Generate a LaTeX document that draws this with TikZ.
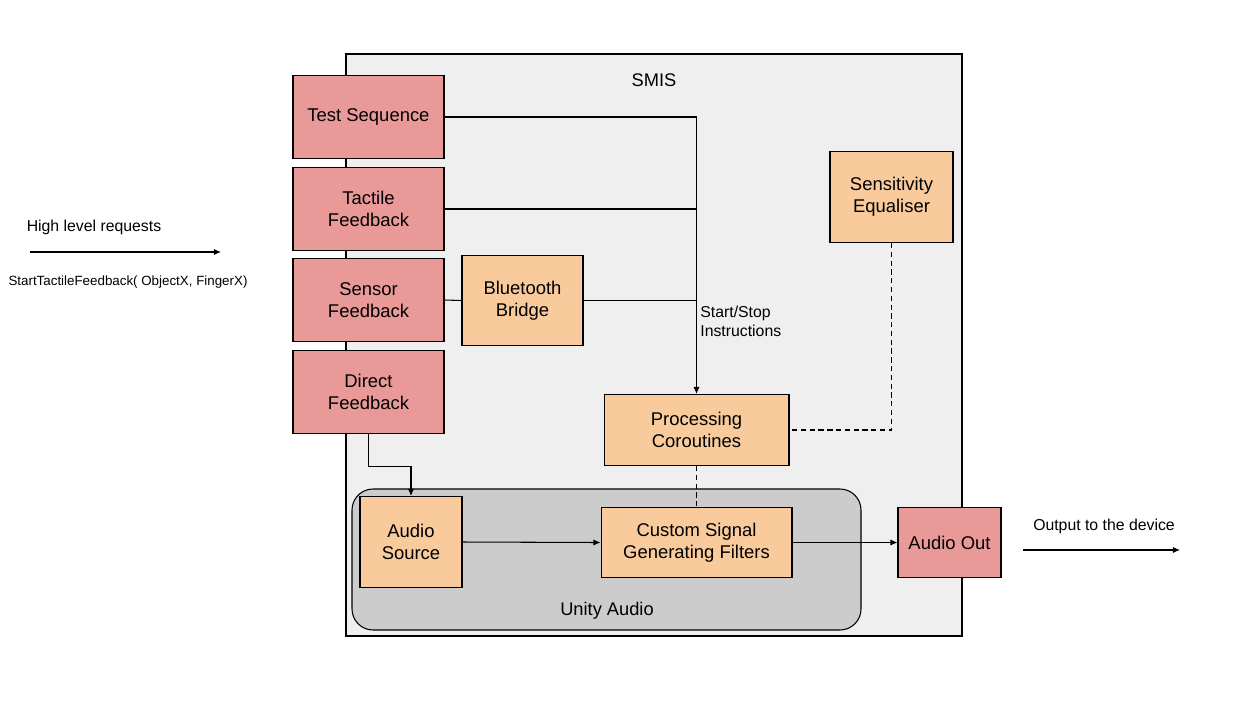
\documentclass[tikz,border=0pt]{standalone}
\usepackage{fontspec}
\setmainfont{Liberation Sans}
\usetikzlibrary{positioning,arrows.meta}

\definecolor{pinkred}{HTML}{EA9999}
\definecolor{peach}{HTML}{F9CB9C}
\definecolor{smisgray}{HTML}{EFEFEF}
\definecolor{unitygray}{HTML}{CCCCCC}

\begin{document}
\begin{tikzpicture}[x=0.02cm, y=-0.02cm, >={Latex[length=4pt,width=3.5pt]}]
        \tikzstyle{block} = [draw, line width=0.6pt, align=center, inner sep=0pt, font=\fontsize{10.5}{12.5}\selectfont]
        \tikzstyle{red block} = [block, fill=pinkred]
        \tikzstyle{peach block} = [block, fill=peach]
        \tikzstyle{link} = [line width=0.6pt]
        \tikzstyle{dashed link} = [link, dash pattern=on 3pt off 2pt]
        \tikzstyle{label} = [inner sep=0pt, font=\fontsize{9}{10.8}\selectfont]

        \useasboundingbox (0,0) rectangle (1233,724);

        % containers
        \draw[line width=0.6pt, fill=smisgray] (346,54) rectangle (962,636);
        \draw[line width=0.6pt, fill=unitygray, rounded corners=12pt] (352,489) rectangle (861,630);
        \node[label, font=\fontsize{10.4}{12}\selectfont](smis) at(654,80) {SMIS};
        \node[label, font=\fontsize{10.4}{12}\selectfont](unity) at(607,611) {Unity Audio};

        % blocks
        \node[red block, minimum width=3.02cm, minimum height=1.66cm](test) at(368.5,117) {Test Sequence};
        \node[red block, minimum width=3.02cm, minimum height=1.66cm](tactile) at(368.5,209) {Tactile\\Feedback};
        \node[red block, minimum width=3.02cm, minimum height=1.66cm](sensor) at(368.5,300) {Sensor\\Feedback};
        \node[red block, minimum width=3.02cm, minimum height=1.66cm](direct) at(368.5,392) {Direct\\Feedback};
        \node[peach block, minimum width=2.42cm, minimum height=1.8cm](bluetooth) at(522.5,300.5) {Bluetooth\\Bridge};
        \node[peach block, minimum width=2.46cm, minimum height=1.82cm](equaliser) at(891.5,197) {Sensitivity\\Equaliser};
        \node[peach block, minimum width=3.7cm, minimum height=1.42cm](coroutines) at(696.5,430) {Processing\\Coroutines};
        \node[peach block, minimum width=2.04cm, minimum height=1.82cm](source) at(411,542) {Audio\\Source};
        \node[peach block, minimum width=3.82cm, minimum height=1.4cm](filters) at(696.5,542.5) {Custom Signal\\Generating Filters};
        \node[red block, minimum width=2.06cm, minimum height=1.4cm](out) at(949.5,542.5) {Audio Out};

        % instructions
        \draw[link, ->] (test.east) -| (coroutines.north);
        \draw[link] (tactile.east) -- (tactile.east -| coroutines.north);
        \draw[link] (bluetooth.east) -- (bluetooth.east -| coroutines.north);
        \draw[link] (sensor.east) -- (bluetooth.west);
        \node[label, align=left, anchor=west](startstop) at(700,321) {Start/Stop\\Instructions};

        \draw[dashed link] (equaliser.south) |- (coroutines.east);
        \draw[dashed link] (coroutines.south) -- (filters.north);

        % audio path
        \draw[link, ->] (direct.south) -- ++(0,32) -| (source.north);
        \draw[link, ->] (source.east) -- (filters.west);
        \draw[link, ->] (filters.east) -- (out.west);

        % outside
        \coordinate (in start) at(30,252);
        \coordinate (in end) at(221,252);
        \draw[link, ->] (in start) -- (in end);
        \node[label](requests) at(94,227) {High level requests};
        \node[label, font=\fontsize{7.6}{9.2}\selectfont](call) at(128,282) {StartTactileFeedback( ObjectX, FingerX)};

        \coordinate (out start) at(1023,550);
        \coordinate (out end) at(1180,550);
        \draw[link, ->] (out start) -- (out end);
        \node[label](device) at(1104,526) {Output to the device};
    \end{tikzpicture}
\end{document}
